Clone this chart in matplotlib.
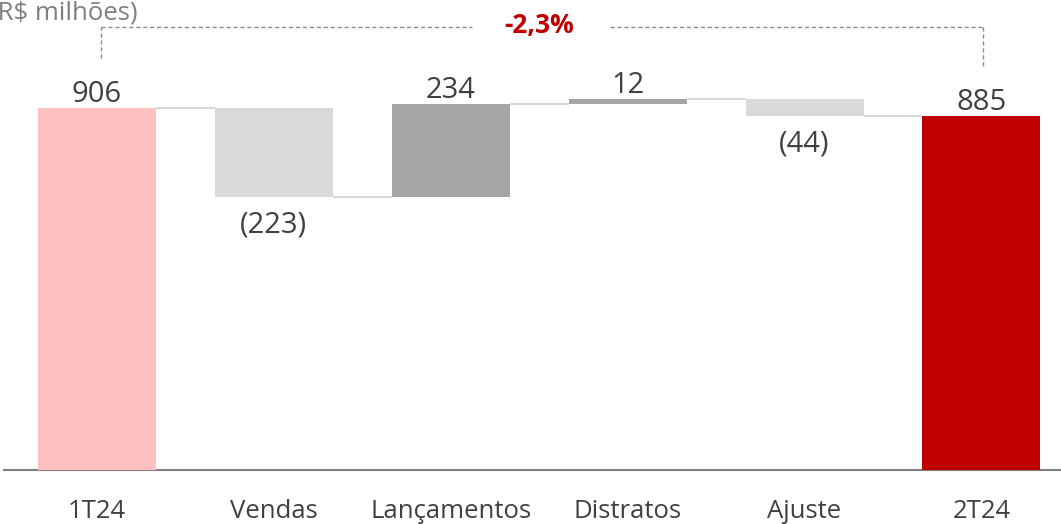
import numpy as np
import matplotlib
matplotlib.use('Agg')
import matplotlib.pyplot as plt

plt.rcParams['font.family'] = ['Open Sans', 'DejaVu Sans']

categorias = ['1T24', 'Vendas', 'Lançamentos', 'Distratos', 'Ajuste', '2T24']
valores = [906, -223, 234, 12, -44, 885]
rotulos = ['906', '(223)', '234', '12', '(44)', '885']
cores = ['#FFC0C0', '#D9D9D9', '#A6A6A6', '#A6A6A6', '#D9D9D9', '#C00000']
variacao = '-2,3%'

# base/topo de cada barra
x = np.arange(len(categorias))
base = []
topo = []
acum = 0
for i, v in enumerate(valores):
    if i == 0 or i == len(valores) - 1:
        base.append(0)
        topo.append(v)
        acum = v
    else:
        novo = acum + v
        base.append(min(acum, novo))
        topo.append(max(acum, novo))
        acum = novo
base = np.array(base)
topo = np.array(topo)
nivel = np.cumsum(valores[:-1])  # nivel apos cada barra

fig = plt.figure(figsize=(10.61, 5.24), dpi=100)
ax = fig.add_axes([4/1061, 54/524, 1057/1061, 470/524])
w = 0.667
ax.bar(x, topo - base, bottom=base, width=w, color=cores, zorder=3)

# conectores
for i in range(len(categorias) - 1):
    ax.plot([x[i] + w/2, x[i+1] - w/2], [nivel[i], nivel[i]],
            color='#D9D9D9', lw=1.5, zorder=2, solid_capstyle='butt')

# rotulos de valor
for i, v in enumerate(valores):
    if v >= 0:
        ax.text(x[i], topo[i] + 15, rotulos[i], ha='center', va='baseline',
                fontsize=21, color='#404040')
    else:
        ax.text(x[i], base[i] - 89, rotulos[i], ha='center', va='baseline',
                fontsize=21, color='#404040')

# colchete tracejado
y_h = 1109
kw = dict(color='#8C8C8C', lw=1, ls=(0, (3, 2)), zorder=1)
ax.plot([x[0] + 0.02, x[0] + 0.02], [1031, y_h], **kw)
ax.plot([x[0] + 0.02, 2.12], [y_h, y_h], **kw)
ax.plot([2.9, x[-1] + 0.01], [y_h, y_h], **kw)
ax.plot([x[-1] + 0.01, x[-1] + 0.01], [y_h, 1006], **kw)
ax.text(2.5, 1094, variacao, ha='center', va='baseline', fontsize=19,
        fontweight='bold', color='#C00000')

fig.text(138/1061, 1 - 19/524, '(R$ milhões)', ha='right', va='baseline',
         fontsize=18.5, color='#7F7F7F')

ax.set_xlim(-0.526, 5.45)
ax.set_ylim(0, 1176)
ax.set_xticks([])
ax.set_yticks([])
for i, c in enumerate(categorias):
    ax.text(x[i], -120, c, ha='center', va='baseline', fontsize=18.5,
            color='#404040', clip_on=False)
for s in ['top', 'left', 'right']:
    ax.spines[s].set_visible(False)
ax.spines['bottom'].set_color('#808080')
ax.spines['bottom'].set_linewidth(1.5)

fig.savefig('out.png', dpi=100)
